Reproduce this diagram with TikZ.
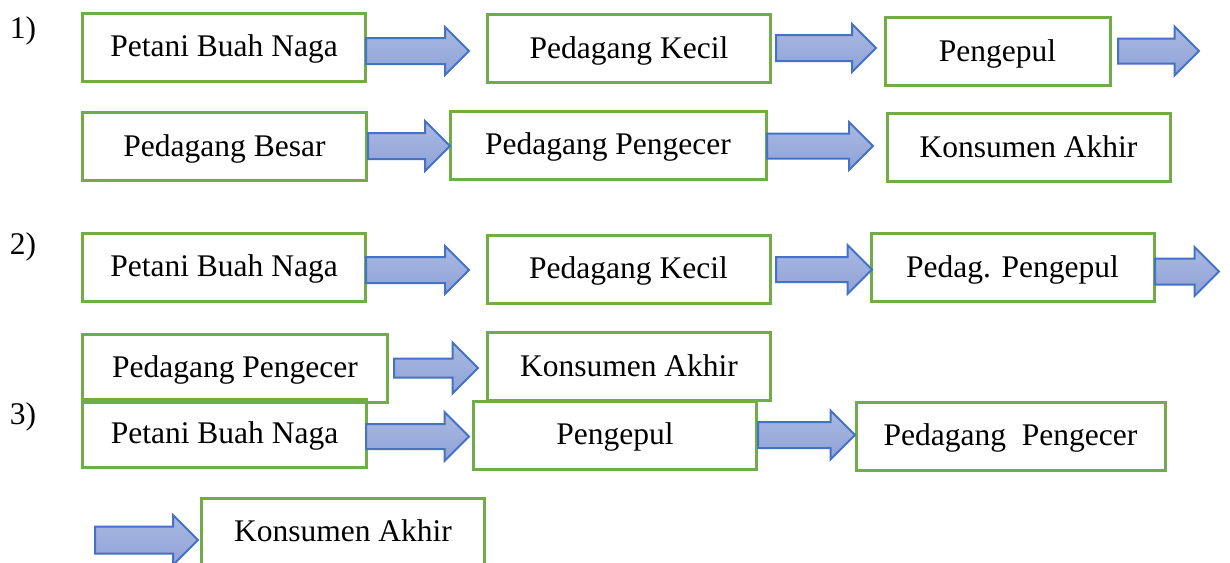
\documentclass[tikz,border=0pt]{standalone}
\usepackage{fontspec}
\setmainfont{Liberation Serif}
\usetikzlibrary{shapes.arrows}
\definecolor{boxgreen}{HTML}{70AD47}
\definecolor{arrowline}{HTML}{4472C4}
\definecolor{arrowtop}{HTML}{AAB9E3}
\definecolor{arrowbot}{HTML}{8FA2D7}
\begin{document}
\begin{tikzpicture}[x=0.4pt,y=-0.4pt,
  every node/.style={font=\fontsize{12.6}{15}\selectfont},
  box/.style={draw=boxgreen,line width=1.2pt,inner sep=0pt,minimum width=113.2pt,minimum height=27.2pt,text height=0.95em,text depth=0.17em},
  arr/.style n args={3}{single arrow,draw=arrowline,line width=0.8pt,top color=arrowtop,bottom color=arrowbot,inner sep=0pt,anchor=tail,minimum height=#1*0.4pt,text height=#2*0.4pt,text depth=0pt,single arrow head extend=#3*0.4pt}]
\useasboundingbox (0,0) rectangle (1230,562);
\node at (23,31) (n1) {1)};
\node at (23,247) (n2) {2)};
\node at (23,417) (n3) {3)};
\node[box] at (224,47) (1) {Petani Buah Naga};
\node[box] at (629,48.5) (2) {Pedagang Kecil};
\node[box,minimum width=90pt] at (997.5,51.5) (3) {Pengepul};
\node[box] at (224.5,146.5) (4) {Pedagang Besar};
\node[box,minimum width=126.4pt] at (608,145) (5) {Pedagang Pengecer};
\node[box] at (1028.5,147.5) (6) {Konsumen Akhir};
\node[box] at (224,267) (7) {Petani Buah Naga};
\node[box] at (628.5,269) (8) {Pedagang Kecil};
\node[box] at (1012.5,267.5) (9) {Pedag. Pengepul};
\node[box,minimum width=121.6pt] at (235,368) (10) {Pedagang Pengecer};
\node[box] at (629,366.5) (11) {Konsumen Akhir};
\node[box] at (224.5,433.5) (12) {Petani Buah Naga};
\node[box] at (615,435) (13) {Pengepul};
\node[box,minimum width=123.6pt] at (1010.5,436) (14) {Pedagang\ \ Pengecer};
\node[box] at (343,532) (15) {Konsumen Akhir};
\node[arr={103}{24}{11}] at (365,51) (a1) {};
\node[arr={100}{24}{11}] at (775,48) (a2) {};
\node[arr={81}{23}{12}] at (1117,51) (a3) {};
\node[arr={82}{24}{12}] at (367,146) (a4) {};
\node[arr={106}{23}{11.5}] at (766,146) (a5) {};
\node[arr={103}{24}{11}] at (365,270) (a6) {};
\node[arr={96}{23}{12}] at (775,269.5) (a7) {};
\node[arr={64}{24}{11.5}] at (1154,271.5) (a8) {};
\node[arr={84}{17}{16}] at (393,368) (a9) {};
\node[arr={103}{23}{12}] at (365,436.5) (a10) {};
\node[arr={97}{24}{11.5}] at (757,435) (a11) {};
\node[arr={103}{25}{11.5}] at (94,540) (a12) {};
\end{tikzpicture}
\end{document}
